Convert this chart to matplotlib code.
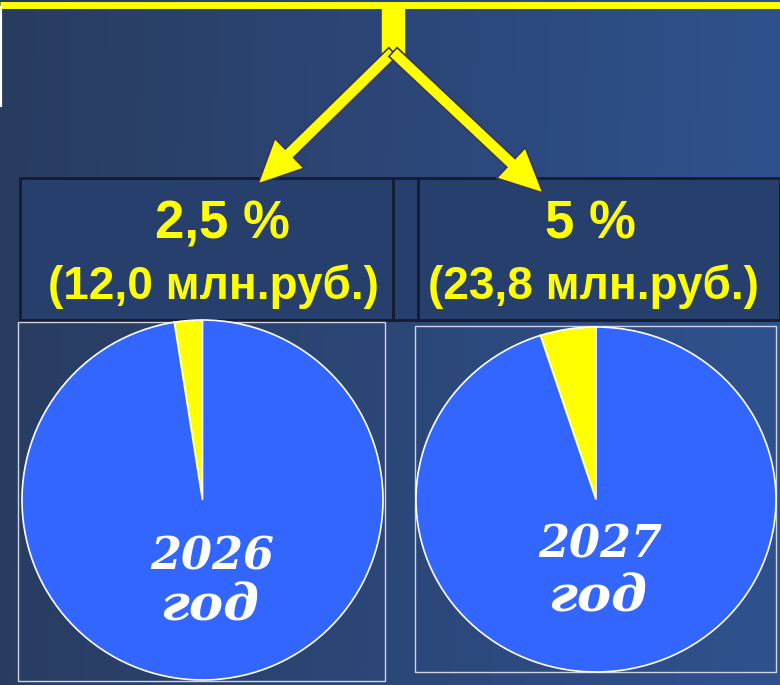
import numpy as np
import matplotlib
matplotlib.use("Agg")
import matplotlib.pyplot as plt
from matplotlib import patches
from matplotlib import font_manager

# данные
years = ['2026', '2027']
shares = [2.5, 5.0]          # доля, %
amounts = ['12,0', '23,8']   # млн.руб.

W, H = 780, 685
fig = plt.figure(figsize=(W / 100, H / 100), dpi=100)

# фон - градиент
bg = fig.add_axes([0, 0, 1, 1])
bg.set_xlim(0, W)
bg.set_ylim(H, 0)
bg.axis('off')
xx = np.linspace(0, 1, 200)
yy = np.linspace(0, 1, 200)
gx, gy = np.meshgrid(xx, yy)
t = np.clip(0.75 * gx + 0.25 * (1 - gy) * 0.3 + 0.1 * gy, 0, 1)
c0 = np.array([0x28, 0x3a, 0x5c]) / 255
c1 = np.array([0x30, 0x56, 0x98]) / 255
img = c0[None, None, :] * (1 - t[..., None]) + c1[None, None, :] * t[..., None]
bg.imshow(img, extent=[0, W, H, 0], aspect='auto', zorder=0)

narrow = [f for f in ['Liberation Sans Narrow', 'Liberation Sans'] if
          any(f == x.name for x in font_manager.fontManager.ttflist)]

# линии и стрелки
bg.plot([0, W], [5, 5], color='#ffff00', lw=5, zorder=2, solid_capstyle='butt')
bg.plot([0, 0], [8, 105], color='white', lw=3, zorder=2)
bg.add_patch(patches.Rectangle((382, 5), 22, 50, color='#ffff00', zorder=2))
for tip in [(258, 184), (543, 193)]:
    bg.add_patch(patches.FancyArrow(393, 52, tip[0] - 393, tip[1] - 52, width=12,
                                    head_width=42, head_length=44,
                                    length_includes_head=True,
                                    facecolor='#ffff00', edgecolor='#3c3558',
                                    lw=1.2, zorder=3))

# плашки с подписями
for x0, x1 in [(20, 393), (393, 418), (418, 780)]:
    bg.add_patch(patches.Rectangle((x0, 178), x1 - x0, 142, facecolor='#263f6c',
                                   edgecolor='#151c30', lw=2, zorder=1))
for cx, s, a in zip([222, 590], shares, amounts):
    pct = (f'{s:.1f}'.replace('.', ',') if s % 1 else f'{s:.0f}') + ' %'
    bg.text(cx, 224, pct, color='#ffff00', fontsize=38, fontweight='bold',
            family=narrow, ha='center', va='center', zorder=4)
    bg.text(cx - 9 if cx < 300 else cx + 3, 287, f'({a} млн.руб.)', color='#ffff00',
            fontsize=33, fontweight='bold', family=narrow,
            ha='center', va='center', zorder=4)

# рамки
bg.add_patch(patches.Rectangle((18, 322), 367, 359, fill=False, edgecolor='#d0d4e0',
                               lw=1, zorder=1))
bg.add_patch(patches.Rectangle((415, 326), 361, 346, fill=False, edgecolor='#d0d4e0',
                               lw=1, zorder=1))

# круговые диаграммы
pies = [(22, 383, 320, 680), (416, 776, 327, 672)]
label_pos = [(212, 557, 210, 607), (600, 545, 598, 598)]
for (x0, x1, y0, y1), s, yr, lp in zip(pies, shares, years, label_pos):
    ax = fig.add_axes([x0 / W, 1 - y1 / H, (x1 - x0) / W, (y1 - y0) / H])
    ax.pie([s, 100 - s], colors=['#ffff00', '#3366ff'], startangle=90,
           counterclock=True,
           wedgeprops=dict(edgecolor='white', linewidth=1.2))
    ax.set_aspect('auto')
    ax.set_xlim(-1.0, 1.0)
    ax.set_ylim(-1.0, 1.0)
    ax.axis('off')
    bg.text(lp[0], lp[1], yr, color='white', fontsize=32, fontweight='bold',
            style='italic', family='DejaVu Serif', ha='center', va='center', zorder=5)
    bg.text(lp[2], lp[3], 'год', color='white', fontsize=37, fontweight='bold',
            style='italic', family='DejaVu Serif', ha='center', va='center', zorder=5)

# подписи поверх круговых диаграмм
bg.set_zorder(0)
for ax in fig.axes[1:]:
    ax.set_zorder(1)
top = fig.add_axes([0, 0, 1, 1])
top.set_xlim(0, W)
top.set_ylim(H, 0)
top.axis('off')
top.set_zorder(2)
for txt in list(bg.texts):
    if txt.get_color() == 'white':
        txt.remove()
        top.add_artist(txt)

fig.savefig('out.png', dpi=100)
